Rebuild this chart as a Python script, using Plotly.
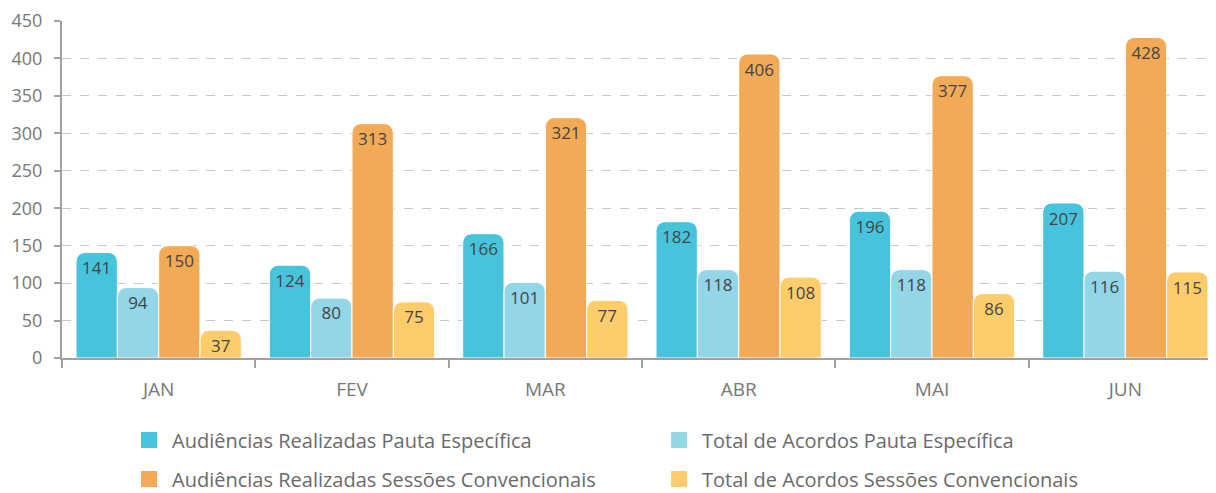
import plotly.graph_objects as go

months = ["JAN", "FEV", "MAR", "ABR", "MAI", "JUN"]
aud_pauta = [141, 124, 166, 182, 196, 207]
acordos_pauta = [94, 80, 101, 118, 118, 116]
aud_sessoes = [150, 313, 321, 406, 377, 428]
acordos_sessoes = [37, 75, 77, 108, 86, 115]

series = [
    ("Audiências Realizadas Pauta Específica", aud_pauta, "#47C4DC", "legend"),
    ("Total de Acordos Pauta Específica", acordos_pauta, "#93D6E8", "legend"),
    ("Audiências Realizadas Sessões Convencionais", aud_sessoes, "#F2AA56", "legend2"),
    ("Total de Acordos Sessões Convencionais", acordos_sessoes, "#FECD6B", "legend2"),
]

FONT = "Open Sans"
fig = go.Figure()
for name, vals, color, leg in series:
    fig.add_trace(go.Bar(
        x=months, y=vals, name=name, showlegend=False,
        marker=dict(color=color, cornerradius=9, line=dict(color="white", width=1)),
        text=[str(v) for v in vals], textposition="inside", insidetextanchor="end",
        textangle=0,
        insidetextfont=dict(color="#444444", size=17, family=FONT),
    ))
# legend-only entries with larger swatches
for name, vals, color, leg in series:
    fig.add_trace(go.Scatter(
        x=[None], y=[None], name=name, mode="markers", legend=leg,
        marker=dict(symbol="square", size=16, color=color, line=dict(width=0)),
        hoverinfo="skip",
    ))

legend_common = dict(
    orientation="h", x=0.0555, xanchor="left", yanchor="middle",
    entrywidth=479, entrywidthmode="pixels", itemwidth=36,
    font=dict(size=20, color="#6a6a6a", family=FONT), itemclick=False,
    bgcolor="rgba(0,0,0,0)",
)

# page adds an 8px body margin, so offsets compensate for it
fig.update_layout(
    width=1208, height=493,
    margin=dict(l=54, r=0, t=13, b=143, autoexpand=False),
    paper_bgcolor="white", plot_bgcolor="white",
    barmode="group", bargap=0.145, bargroupgap=0,
    font=dict(family=FONT, color="#777777", size=18),
    uniformtext=dict(minsize=17, mode="show"),
    legend=dict(y=-0.2435, **legend_common),
    legend2=dict(y=-0.359, **legend_common),
    showlegend=True,
)
fig.update_xaxes(
    range=[-0.5, 5.469], showline=True, linecolor="#a0a0a0", linewidth=2,
    ticks="outside", tickson="boundaries", ticklen=8, tickcolor="#a0a0a0", tickwidth=2,
    ticklabelstandoff=13, showgrid=False, automargin=False,
    tickfont=dict(size=19, color="#777777"),
)
fig.update_yaxes(
    range=[0, 450], dtick=50, showline=True, linecolor="#a0a0a0", linewidth=2,
    ticks="outside", ticklen=6, tickcolor="#a0a0a0", tickwidth=2,
    showgrid=True, gridcolor="#c8c8c8", griddash="dash", gridwidth=1,
    zeroline=False, tickfont=dict(size=18, color="#777777"), ticklabelstandoff=8,
    automargin=False, ticklabeloverflow="allow",
)
fig.write_html("out.html")
